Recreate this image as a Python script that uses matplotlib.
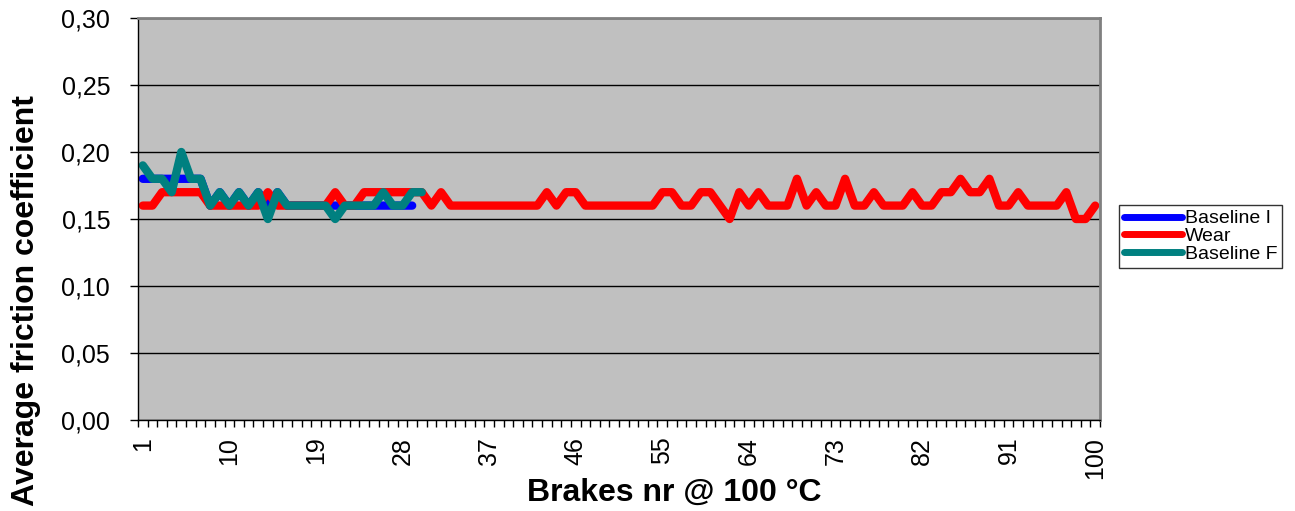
import numpy as np
import matplotlib
matplotlib.use('Agg')
import matplotlib.pyplot as plt
from matplotlib.ticker import FuncFormatter

plt.rcParams['font.family'] = ['Liberation Sans', 'DejaVu Sans']

# average friction coefficient per brake
baseline_i = [0.18, 0.18, 0.18, 0.18, 0.18, 0.18, 0.18, 0.16, 0.17, 0.16,
              0.17, 0.16, 0.17, 0.16, 0.17, 0.16, 0.16, 0.16, 0.16, 0.16,
              0.16, 0.16, 0.16, 0.16, 0.16, 0.16, 0.16, 0.16, 0.16]

wear = [0.16, 0.16, 0.17, 0.17, 0.17, 0.17, 0.17, 0.16, 0.16, 0.16,
        0.16, 0.16, 0.16, 0.17, 0.16, 0.16, 0.16, 0.16, 0.16, 0.16,
        0.17, 0.16, 0.16, 0.17, 0.17, 0.17, 0.17, 0.17, 0.17, 0.17,
        0.16, 0.17, 0.16, 0.16, 0.16, 0.16, 0.16, 0.16, 0.16, 0.16,
        0.16, 0.16, 0.17, 0.16, 0.17, 0.17, 0.16, 0.16, 0.16, 0.16,
        0.16, 0.16, 0.16, 0.16, 0.17, 0.17, 0.16, 0.16, 0.17, 0.17,
        0.16, 0.15, 0.17, 0.16, 0.17, 0.16, 0.16, 0.16, 0.18, 0.16,
        0.17, 0.16, 0.16, 0.18, 0.16, 0.16, 0.17, 0.16, 0.16, 0.16,
        0.17, 0.16, 0.16, 0.17, 0.17, 0.18, 0.17, 0.17, 0.18, 0.16,
        0.16, 0.17, 0.16, 0.16, 0.16, 0.16, 0.17, 0.15, 0.15, 0.16]

baseline_f = [0.19, 0.18, 0.18, 0.17, 0.20, 0.18, 0.18, 0.16, 0.17, 0.16,
              0.17, 0.16, 0.17, 0.15, 0.17, 0.16, 0.16, 0.16, 0.16, 0.16,
              0.15, 0.16, 0.16, 0.16, 0.16, 0.17, 0.16, 0.16, 0.17, 0.17]

series = [('Baseline I', baseline_i, '#0000FF'),
          ('Wear', wear, '#FF0000'),
          ('Baseline F', baseline_f, '#008080')]

W, H = 1295, 511
fig = plt.figure(figsize=(W / 100, H / 100), dpi=100)
ax = fig.add_axes([138 / W, 1 - 420 / H, 962 / W, 402 / H])
ax.set_facecolor('#C0C0C0')

for name, vals, col in series:
    xs = np.arange(1, len(vals) + 1)
    ax.plot(xs, vals, color=col, lw=6, label=name,
            solid_capstyle='round', solid_joinstyle='round')

ax.set_xlim(0.5, 100.5)
ax.set_ylim(0, 0.30)

yt = np.arange(0, 0.301, 0.05)
ax.set_yticks(yt)
ax.yaxis.set_major_formatter(FuncFormatter(lambda v, p: f'{v:.2f}'.replace('.', ',')))
ax.tick_params(axis='y', length=6, width=1, pad=14, labelsize=18, direction='out')
ax.grid(axis='y', color='black', lw=1)
ax.set_axisbelow(True)

ax.set_xticks(np.arange(1, 101, 9))
ax.set_xticks(np.arange(0.5, 101, 1), minor=True)
ax.tick_params(axis='x', which='major', length=0, pad=12, labelsize=18, labelrotation=90)
ax.tick_params(axis='x', which='minor', length=5, width=1, direction='out')

for s in ['top', 'right']:
    ax.spines[s].set_color('#808080')
    ax.spines[s].set_linewidth(2)
for s in ['left', 'bottom']:
    ax.spines[s].set_color('black')
    ax.spines[s].set_linewidth(1)

fig.text(674 / W, 1 - 493 / H, 'Brakes nr @ 100 °C', ha='center', va='center',
         fontsize=23, fontweight='bold')
fig.text(26 / W, 1 - 301 / H, 'Average friction coefficient', ha='center', va='center',
         rotation=90, fontsize=23, fontweight='bold')

leg = fig.legend(loc='upper left', bbox_to_anchor=(1119 / W, 1 - 205 / H),
                 fontsize=14, frameon=True, fancybox=False, shadow=False,
                 borderpad=0.25, labelspacing=0.0, handlelength=3.0,
                 handletextpad=0.15, borderaxespad=0)
leg.get_frame().set_edgecolor('black')
leg.get_frame().set_linewidth(1)
for line in leg.get_lines():
    line.set_linewidth(5)

fig.savefig('out.png', dpi=100, facecolor='white')
